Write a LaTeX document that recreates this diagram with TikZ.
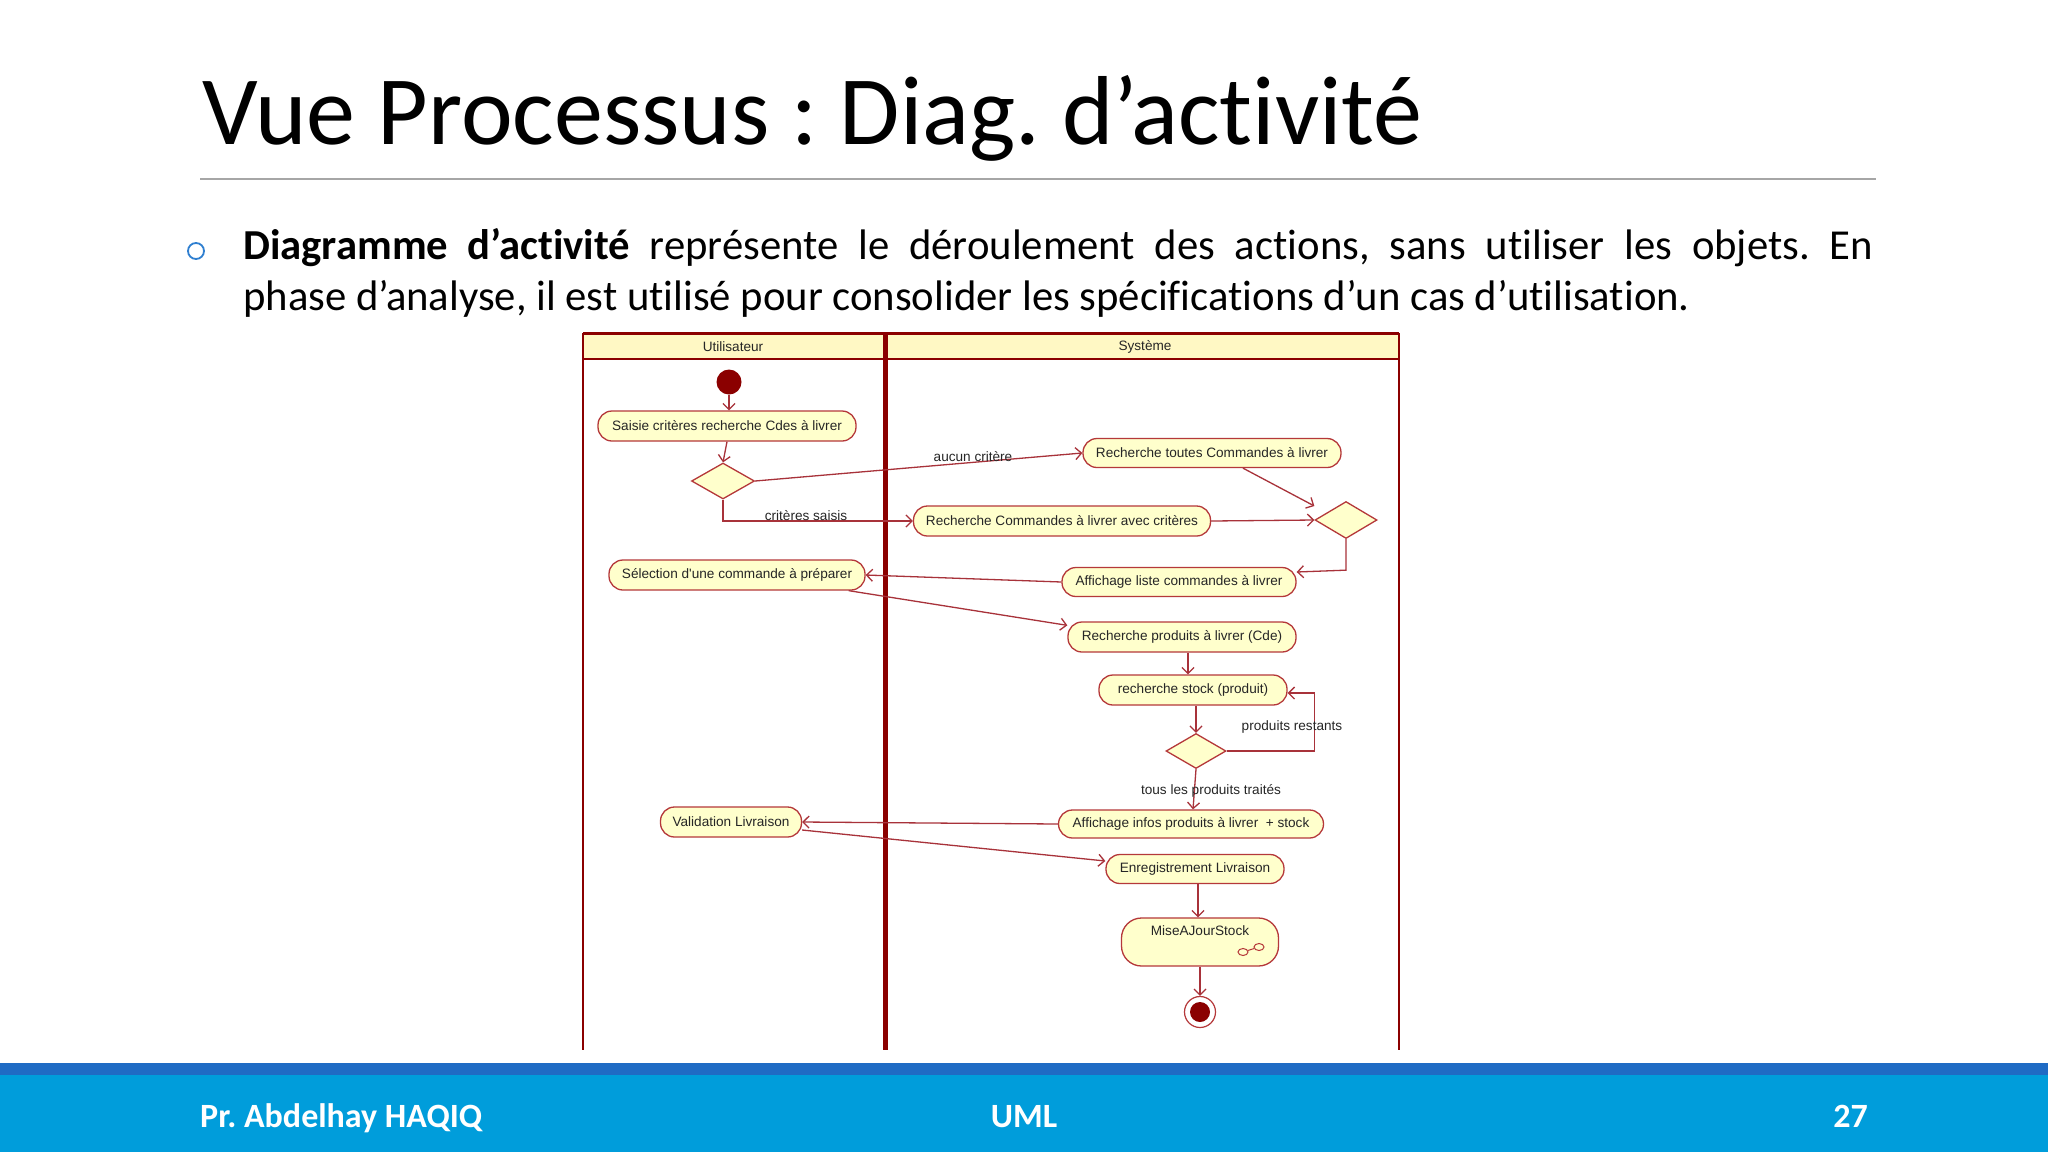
\documentclass[tikz,border=0pt]{standalone}
\usepackage{fontspec}
\setmainfont[Ligatures={TeX,NoCommon}]{Carlito}
\newfontfamily\umlfont{Liberation Sans}
\usetikzlibrary{arrows.meta,shapes.geometric}
\definecolor{lane}{HTML}{8B0000}
\definecolor{edgec}{HTML}{A8323A}
\definecolor{nodeborder}{HTML}{B5383A}
\definecolor{nodefill}{HTML}{FFFFCC}
\definecolor{headfill}{HTML}{FFF8C4}
\definecolor{footdark}{HTML}{1F6BC4}
\definecolor{footlight}{HTML}{009DDB}
\definecolor{rulegray}{HTML}{A6A6A6}
\definecolor{bulletblue}{HTML}{2F7FD0}
\frenchspacing
\begin{document}
\begin{tikzpicture}[x=1pt,y=-1pt,
  act/.style={draw=nodeborder, fill=nodefill, line width=1.3pt, rounded corners=14pt,
    minimum height=30pt, inner sep=0pt, font=\umlfont\fontsize{13.6}{15}\selectfont, text=black!85},
  dec/.style={diamond, draw=nodeborder, fill=nodefill, line width=1.3pt, inner sep=0pt},
  flow/.style={draw=edgec, line width=1.3pt, -{Straight Barb[length=6pt,width=12pt]}},
  glabel/.style={font=\umlfont\fontsize{13.6}{15}\selectfont, text=black!85, inner sep=0pt},
  lanehead/.style={font=\umlfont\fontsize{13.6}{15}\selectfont, text=black!85, inner sep=0pt},
]
\useasboundingbox (0,0) rectangle (2048,1152);
\fill[white] (0,0) rectangle (2048,1152);

% title
\node[anchor=base west, inner sep=0pt, font=\fontsize{98}{118}\selectfont] (title) at (202,144) {Vue Processus : Diag. d’activité};
\draw[rulegray, line width=1.5pt] (200,179) -- (1876,179);

% bullet text
\node[draw=bulletblue, line width=1.8pt, circle, minimum size=16pt, inner sep=0pt] (bullet) at (196,251) {};
\node[anchor=base west, inner sep=0pt, text width=1630pt, align=justify,
  font=\fontsize{42.7}{51}\selectfont] (body) at (243,259)
  {\textbf{Diagramme d’activité} représente le déroulement des actions, sans utiliser les objets. En\linebreak
   phase d’analyse, il est utilisé pour consolider les spécifications d’un cas d’utilisation.};

% swimlanes
\fill[headfill] (583,333) rectangle (1399,359);
\draw[lane, line width=3pt] (583,333) -- (1399,333);
\draw[lane, line width=2.5pt] (583,359) -- (1399,359);
\draw[lane, line width=2.5pt] (583,333) -- (583,1050);
\draw[lane, line width=2.5pt] (1399,333) -- (1399,1050);
\draw[lane, line width=5pt] (885,333) -- (885,1050);
\node[lanehead] (lu) at (733,347) {Utilisateur};
\node[lanehead] (ls) at (1145,347) {Système};

% nodes
\node[circle, fill=lane, minimum size=25pt, inner sep=0pt] (start) at (729,382) {};
\node[act, minimum width=258pt] (saisie) at (727,426) {Saisie critères recherche Cdes à livrer};
\node[dec, minimum width=63pt, minimum height=36pt] (d1) at (723,481) {};
\node[act, minimum width=258pt, minimum height=29pt] (rtoutes) at (1212,453) {Recherche toutes Commandes à livrer};
\node[act, minimum width=297pt] (ravec) at (1062,521) {Recherche Commandes à livrer avec critères};
\node[dec, minimum width=62pt, minimum height=37pt] (d2) at (1346,520) {};
\node[act, minimum width=234pt, minimum height=29pt] (aff) at (1179,582) {Affichage liste commandes à livrer};
\node[act, minimum width=256pt] (sel) at (737,575) {Sélection d'une commande à préparer};
\node[act, minimum width=228pt] (rprod) at (1182,637) {Recherche produits à livrer (Cde)};
\node[act, minimum width=188pt] (rstock) at (1193,690) {recherche stock (produit)};
\node[dec, minimum width=60pt, minimum height=35pt] (d3) at (1196,751) {};
\node[act, minimum width=265pt, minimum height=28pt] (affinfo) at (1191,824) {Affichage infos produits à livrer\ \ + stock};
\node[act, minimum width=141pt] (valid) at (731,822) {Validation Livraison};
\node[act, minimum width=178pt, minimum height=29pt] (enreg) at (1195,869) {Enregistrement Livraison};
\node[act, minimum width=157pt, minimum height=48pt, rounded corners=20pt] (maj) at (1200,942) {};
\node[glabel] (majtext) at (1200,931) {MiseAJourStock};
\node[draw=nodeborder, line width=1pt, ellipse, minimum width=10pt, minimum height=7pt, inner sep=0pt] (ic1) at (1243,952) {};
\node[draw=nodeborder, line width=1pt, ellipse, minimum width=10pt, minimum height=7pt, inner sep=0pt] (ic2) at (1259,947) {};
\draw[nodeborder, line width=1pt] (ic1) -- (ic2);
\node[circle, draw=nodeborder, fill=white, line width=1.2pt, minimum size=31pt, inner sep=0pt] (final) at (1200,1012) {};
\node[circle, fill=lane, minimum size=20pt, inner sep=0pt] (finalin) at (final) {};

% flows
\draw[flow] (start.south) -- (start.south |- saisie.north);
\draw[flow] (saisie.south) -- (d1.north);
\draw[flow] (d1.east) -- (rtoutes.west);
\node[glabel] (l1) at (973,457) {aucun critère};
\draw[flow] (d1.south) |- (ravec.west);
\node[glabel] (l2) at (806,516) {critères saisis};
\draw[flow] ([xshift=31pt]rtoutes.south) -- ([yshift=14pt]d2.west);
\draw[flow] (ravec.east) -- (d2.west);
\draw[flow] (d2.south) -- ++(0,31) -- ([yshift=10pt]aff.east);
\draw[flow] (aff.west) -- (sel.east);
\draw[flow] ([xshift=-17pt]sel.south east) -- ([yshift=-4pt]rprod.north west);
\draw[flow] ([xshift=6pt]rprod.south) -- ([xshift=6pt]rprod.south |- rstock.north);
\draw[flow] (d3.north |- rstock.south) -- (d3.north);
\draw[flow] (d3.east) -- ++(88,0) |- ([yshift=-3pt]rstock.east);
\node[glabel] (l3) at (1292,727) {produits restants};
\draw[flow] (d3.south) -- ([xshift=2pt]affinfo.north);
\node[glabel] (l4) at (1211,791) {tous les produits traités};
\draw[flow] (affinfo.west) -- (valid.east);
\draw[flow] ([yshift=-8pt]valid.east) -- ([yshift=8pt]enreg.west);
\draw[flow] ([xshift=3pt]enreg.south) -- ([xshift=3pt]enreg.south |- maj.north);
\draw[flow] (maj.south) -- (final.north);

% footer
\fill[footdark] (0,1063) rectangle (2048,1075);
\fill[footlight] (0,1075) rectangle (2048,1152);
\node[anchor=base west, inner sep=0pt, text=white, font=\bfseries\fontsize{34}{40}\selectfont] (f1) at (200,1127) {Pr. Abdelhay HAQIQ};
\node[anchor=base, inner sep=0pt, text=white, font=\bfseries\fontsize{34}{40}\selectfont] (f2) at (1024,1127) {UML};
\node[anchor=base east, inner sep=0pt, text=white, font=\bfseries\fontsize{34}{40}\selectfont] (f3) at (1868,1127) {27};
\end{tikzpicture}
\end{document}
